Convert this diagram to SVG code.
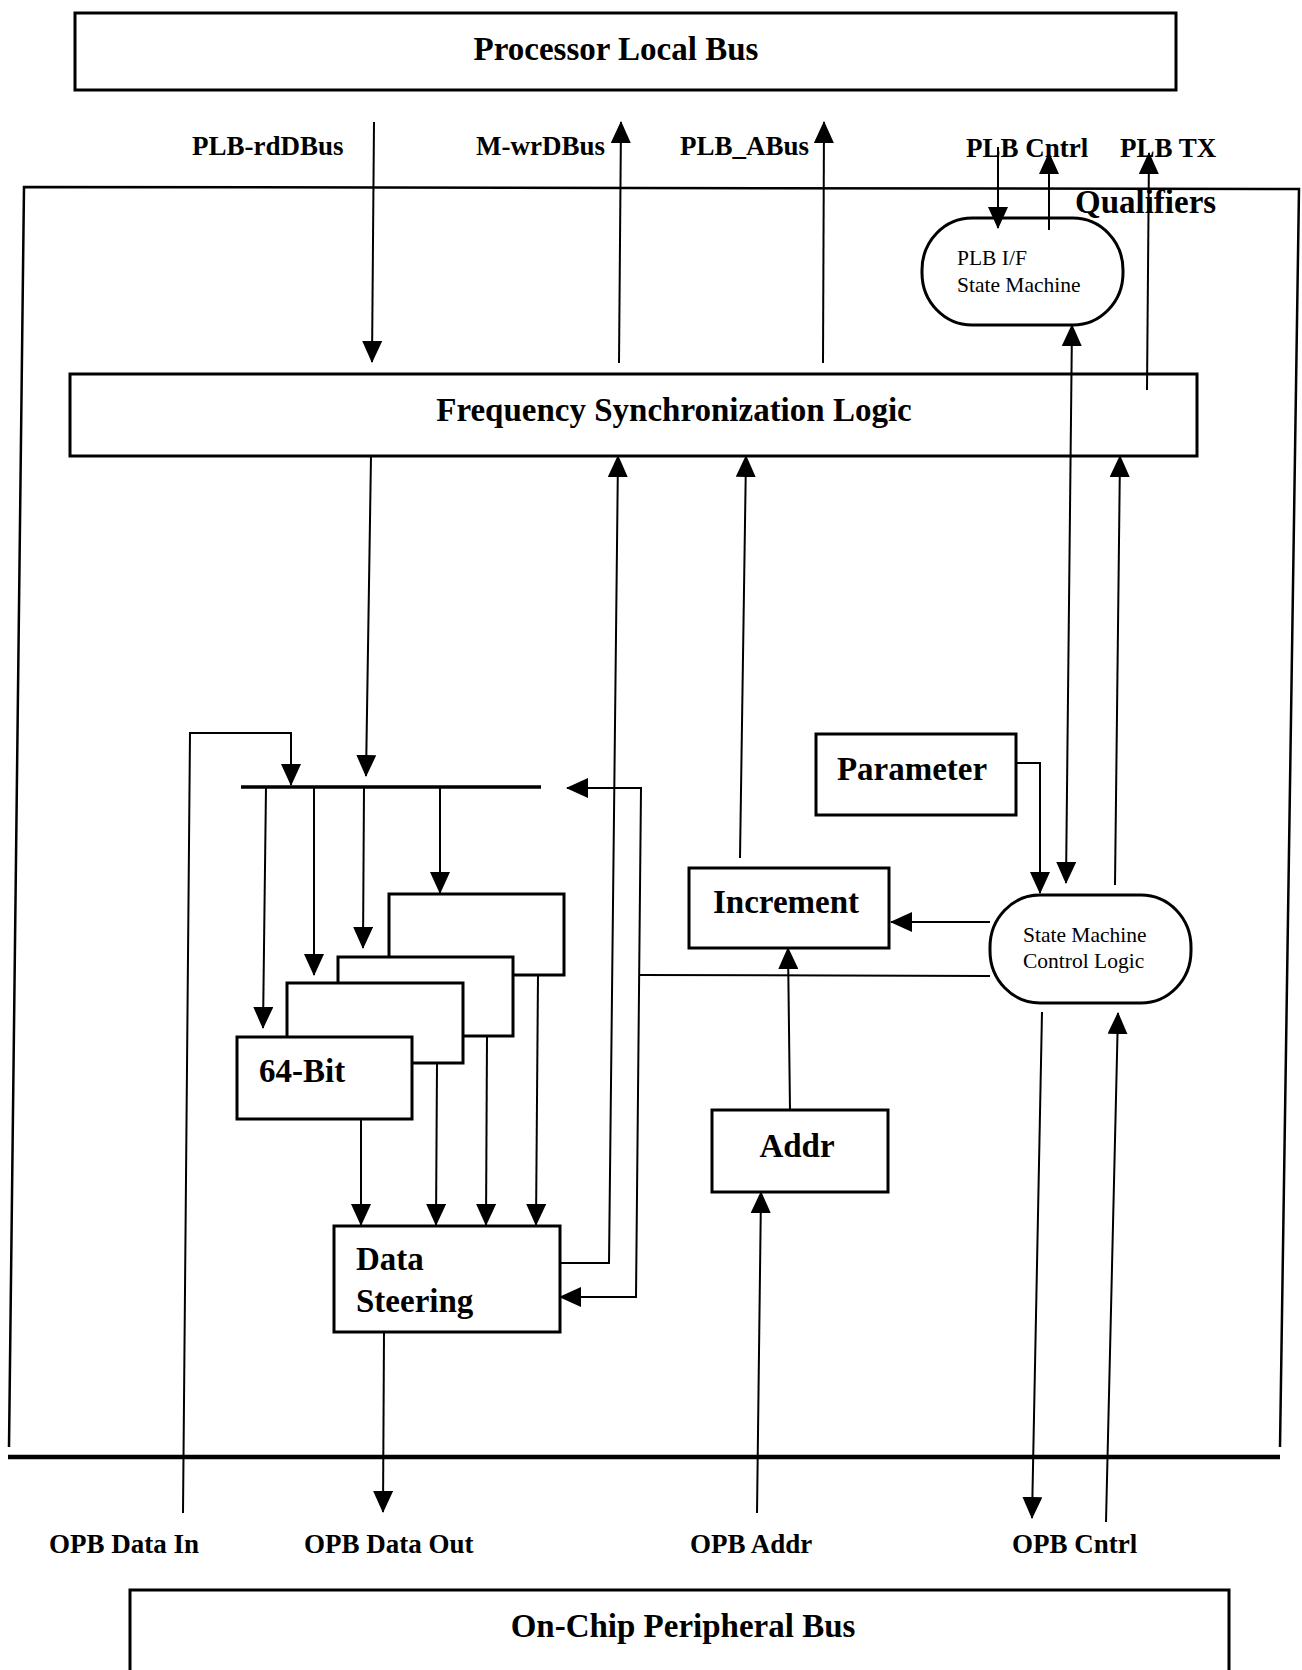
<svg xmlns="http://www.w3.org/2000/svg" width="1302" height="1670" viewBox="0 0 1302 1670">
<defs>
<marker id="ah" markerUnits="userSpaceOnUse" markerWidth="22" markerHeight="20" refX="21" refY="10" orient="auto-start-reverse" viewBox="0 0 22 20"><path d="M0,0 L22,10 L0,20 z" fill="#000"/></marker>
</defs>
<style>
.box{fill:#fff;stroke:#000;stroke-width:3}
.ln{fill:none;stroke:#000;stroke-width:2}
.arr{marker-end:url(#ah)}
.big{font-family:"Liberation Serif","Times New Roman",serif;font-weight:bold;font-size:33px;fill:#000}
.lbl{font-family:"Liberation Serif","Times New Roman",serif;font-weight:bold;font-size:27px;fill:#000}
.sm{font-family:"Liberation Serif","Times New Roman",serif;font-size:21.5px;fill:#000}
.mid{text-anchor:middle}
</style>
<rect x="0" y="0" width="1302" height="1670" fill="#fff"/>

<g id="outer-frame">
<path d="M9,1447 L24,187 L1299,189 L1280,1447" fill="none" stroke="#000" stroke-width="2.5"/>
<line x1="8" y1="1457" x2="1280" y2="1457" stroke="#000" stroke-width="4.5"/>
</g>

<g id="plb-bus">
<rect class="box" x="75" y="13" width="1101" height="77"/>
<text class="big mid" x="616" y="60">Processor Local Bus</text>
</g>

<g id="top-labels">
<text class="lbl" x="192" y="155">PLB-rdDBus</text>
<text class="lbl" x="476" y="155">M-wrDBus</text>
<text class="lbl" x="680" y="155">PLB_ABus</text>
<text class="lbl" x="966" y="157">PLB Cntrl</text>
<text class="lbl" x="1120" y="157">PLB TX</text>
<text class="big" x="1075" y="213">Qualifiers</text>
</g>

<g id="fsl">
<rect class="box" x="70" y="374" width="1127" height="82"/>
<text class="big mid" x="674" y="421">Frequency Synchronization Logic</text>
</g>

<g id="plb-if-sm">
<rect class="box" x="922" y="218" width="201" height="107" rx="50" ry="52"/>
<text class="sm" x="957" y="265">PLB I/F</text>
<text class="sm" x="957" y="292">State Machine</text>
</g>

<g id="parameter">
<rect class="box" x="816" y="734" width="200" height="81"/>
<text class="big mid" x="912" y="780">Parameter</text>
</g>

<g id="increment">
<rect class="box" x="689" y="868" width="200" height="80"/>
<text class="big mid" x="786" y="913">Increment</text>
</g>

<g id="sm-control">
<rect class="box" x="990" y="895" width="201" height="108" rx="50" ry="52"/>
<text class="sm" x="1023" y="942">State Machine</text>
<text class="sm" x="1023" y="968">Control Logic</text>
</g>

<g id="addr">
<rect class="box" x="712" y="1110" width="176" height="82"/>
<text class="big mid" x="797" y="1157">Addr</text>
</g>

<g id="buffer-4"><rect class="box" x="389" y="894" width="175" height="81"/></g>
<g id="buffer-3"><rect class="box" x="338" y="957" width="175" height="79"/></g>
<g id="buffer-2"><rect class="box" x="287" y="983" width="176" height="80"/></g>
<g id="buffer-1">
<rect class="box" x="237" y="1037" width="175" height="82"/>
<text class="big" x="259" y="1082">64-Bit</text>
</g>

<g id="data-steering">
<rect class="box" x="334" y="1226" width="226" height="106"/>
<text class="big" x="356" y="1270">Data</text>
<text class="big" x="356" y="1312">Steering</text>
</g>

<g id="opb-bus">
<rect class="box" x="130" y="1590" width="1099" height="110"/>
<text class="big mid" x="683" y="1637">On-Chip Peripheral Bus</text>
</g>

<g id="bottom-labels">
<text class="lbl" x="49" y="1553">OPB Data In</text>
<text class="lbl" x="304" y="1553">OPB Data Out</text>
<text class="lbl" x="690" y="1553">OPB Addr</text>
<text class="lbl" x="1012" y="1553">OPB Cntrl</text>
</g>

<g id="connectors">
<line class="ln arr" x1="374" y1="122" x2="372" y2="362"/>
<line class="ln arr" x1="619" y1="363" x2="621" y2="122"/>
<line class="ln arr" x1="823" y1="363" x2="824" y2="122"/>
<line class="ln arr" x1="998" y1="147" x2="998" y2="228"/>
<line class="ln arr" x1="1049" y1="230" x2="1049" y2="153"/>
<line class="ln arr" x1="1147" y1="390" x2="1149" y2="153"/>
<line class="ln arr" x1="1072" y1="325" x2="1066" y2="883" marker-start="url(#ah)"/>
<line class="ln arr" x1="371" y1="456" x2="366" y2="776"/>
<polyline class="ln arr" points="560,1263 609,1263 618,456"/>
<line class="ln arr" x1="740" y1="858" x2="746" y2="456"/>
<line class="ln arr" x1="1115" y1="885" x2="1120" y2="456"/>
<polyline class="ln arr" points="567,788 641,788 636,1297 560,1297" marker-start="url(#ah)"/>
<line class="ln" x1="640" y1="975" x2="990" y2="976"/>
<line class="ln arr" x1="990" y1="922" x2="891" y2="922"/>
<polyline class="ln arr" points="1016,763 1040,763 1040,893"/>
<line class="ln arr" x1="790" y1="1110" x2="788" y2="948"/>
<line class="ln arr" x1="757" y1="1513" x2="761" y2="1192"/>
<line class="ln arr" x1="1042" y1="1012" x2="1032" y2="1518"/>
<line class="ln arr" x1="1106" y1="1522" x2="1118" y2="1013"/>
<polyline class="ln arr" points="183,1513 190,733 291,733 291,785"/>
<line class="ln arr" x1="384" y1="1332" x2="383" y2="1512"/>
<line x1="241" y1="787" x2="541" y2="787" stroke="#000" stroke-width="3.5"/>
<line class="ln arr" x1="266" y1="787" x2="263" y2="1028"/>
<line class="ln arr" x1="314" y1="787" x2="314" y2="975"/>
<line class="ln arr" x1="364" y1="787" x2="363" y2="948"/>
<line class="ln arr" x1="440" y1="787" x2="440" y2="893"/>
<line class="ln arr" x1="361" y1="1119" x2="361" y2="1225"/>
<line class="ln arr" x1="437" y1="1063" x2="436" y2="1225"/>
<line class="ln arr" x1="487" y1="1036" x2="486" y2="1225"/>
<line class="ln arr" x1="538" y1="975" x2="536" y2="1225"/>
</g>
</svg>
